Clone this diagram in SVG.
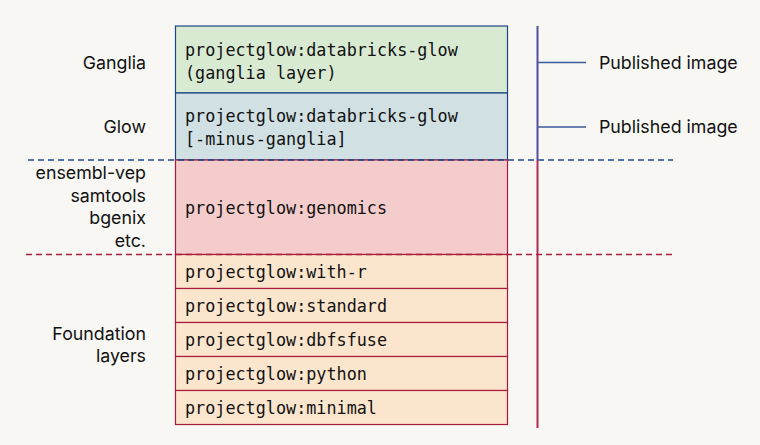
<svg xmlns="http://www.w3.org/2000/svg" width="760" height="445" viewBox="0 0 760 445">
<style>
.mono{font-family:"DejaVu Sans Mono","Liberation Mono",monospace;font-size:16.8px;fill:#111}
.lab{font-family:Inter,"Noto Sans",sans-serif;font-size:17.8px;fill:#111}
.rl{text-anchor:end}
.bs{stroke:#1c4587;stroke-width:1.2}
.rs{stroke:#a61c3c;stroke-width:1.2}
</style>
<rect width="760" height="445" fill="#f8f7f4"/>
<g id="ganglia"><rect x="175.5" y="26" width="332" height="67" fill="#d9ead3" class="bs"/>
<text class="mono" x="185" y="56">projectglow:databricks-glow</text>
<text class="mono" x="185" y="79">(ganglia layer)</text></g>
<g id="glow"><rect x="175.5" y="93" width="332" height="67" fill="#d0e0e3" class="bs"/>
<text class="mono" x="185" y="122">projectglow:databricks-glow</text>
<text class="mono" x="185" y="145">[-minus-ganglia]</text></g>
<g id="genomics"><rect x="175.5" y="160" width="332" height="94.5" fill="#f4cccc" class="rs"/>
<text class="mono" x="185" y="213.5">projectglow:genomics</text></g>
<g id="with-r"><rect x="175.5" y="254.5" width="332" height="34" fill="#fce5cd" class="rs"/>
<text class="mono" x="185" y="278">projectglow:with-r</text></g>
<g id="standard"><rect x="175.5" y="288.5" width="332" height="34" fill="#fce5cd" class="rs"/>
<text class="mono" x="185" y="312">projectglow:standard</text></g>
<g id="dbfsfuse"><rect x="175.5" y="322.5" width="332" height="34" fill="#fce5cd" class="rs"/>
<text class="mono" x="185" y="346">projectglow:dbfsfuse</text></g>
<g id="python"><rect x="175.5" y="356.5" width="332" height="34" fill="#fce5cd" class="rs"/>
<text class="mono" x="185" y="380">projectglow:python</text></g>
<g id="minimal"><rect x="175.5" y="390.5" width="332" height="34" fill="#fce5cd" class="rs"/>
<text class="mono" x="185" y="414">projectglow:minimal</text></g>
<g id="labels">
<text class="lab rl" x="146" y="69">Ganglia</text>
<text class="lab rl" x="146" y="133">Glow</text>
<text class="lab rl" x="146" y="179">ensembl-vep</text>
<text class="lab rl" x="146" y="201.5">samtools</text>
<text class="lab rl" x="146" y="224">bgenix</text>
<text class="lab rl" x="146" y="246.5">etc.</text>
<text class="lab rl" x="146" y="340">Foundation</text>
<text class="lab rl" x="146" y="362">layers</text>
<text class="lab" x="599" y="69">Published image</text>
<text class="lab" x="599" y="133">Published image</text>
</g>
<g id="connectors" fill="none">
<line x1="28" y1="160" x2="673" y2="160" stroke="#1c4587" stroke-width="1.4" stroke-dasharray="6,4"/>
<line x1="26" y1="254.5" x2="673" y2="254.5" stroke="#a61c3c" stroke-width="1.4" stroke-dasharray="6,4"/>
<line x1="537.5" y1="26" x2="537.5" y2="160" stroke="#4f4fa0" stroke-width="2"/>
<line x1="537.5" y1="160" x2="537.5" y2="428" stroke="#b52a4e" stroke-width="2"/>
<line x1="537.5" y1="62.5" x2="586" y2="62.5" stroke="#3a5a9a" stroke-width="1.6"/>
<line x1="537.5" y1="127" x2="586" y2="127" stroke="#3a5a9a" stroke-width="1.6"/>
</g>
</svg>
